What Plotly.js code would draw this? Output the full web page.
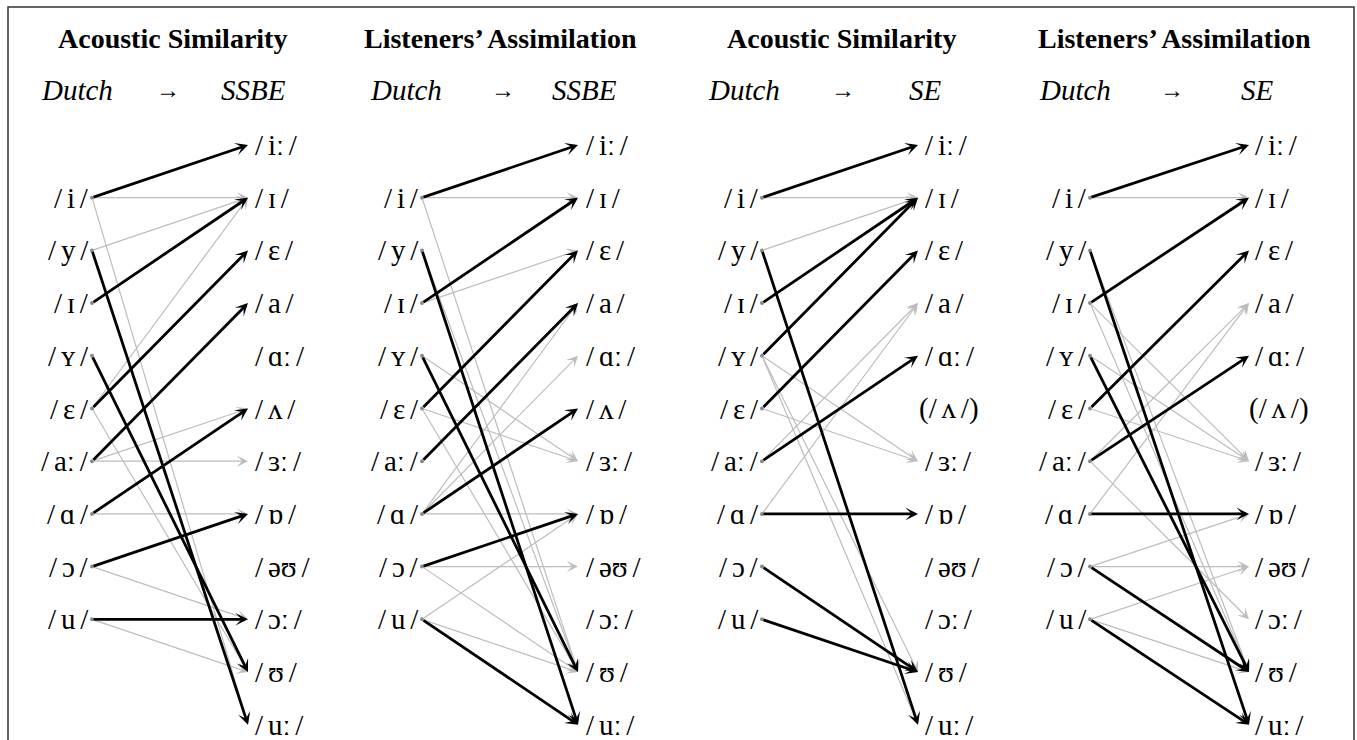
<!DOCTYPE html>
<html>
<head>
<meta charset="utf-8">
<script src="https://cdn.plot.ly/plotly-3.0.1.min.js"></script>
<style>html,body{margin:0;padding:0;background:#fff;}#chart{width:1357px;height:740px;}</style>
</head>
<body>
<div id="chart"></div>
<script>
// ---------- DATA ----------
const dutchVowels = ['i','y','ɪ','ʏ','ɛ','aː','ɑ','ɔ','u'];
const ssbeVowels  = ['iː','ɪ','ɛ','a','ɑː','ʌ','ɜː','ɒ','əʊ','ɔː','ʊ','uː'];
const seVowels    = ['iː','ɪ','ɛ','a','ɑː','(ʌ)','ɜː','ɒ','əʊ','ɔː','ʊ','uː'];
const panelTitles = ['Acoustic Similarity','Listeners’ Assimilation','Acoustic Similarity','Listeners’ Assimilation'];
const sourceName  = 'Dutch';
const targetNames = ['SSBE','SSBE','SE','SE'];

// edges: [Dutch vowel, English vowel]; major = black, minor = grey
const acousticSSBE_major = [['i','iː'],['y','uː'],['ɪ','ɪ'],['ʏ','ʊ'],['ɛ','ɛ'],['aː','a'],['ɑ','ʌ'],['ɔ','ɒ'],['u','ɔː']];
const acousticSSBE_minor = [['i','ɪ'],['i','uː'],['y','ɪ'],['ɛ','ɪ'],['ɛ','ʊ'],['aː','ʌ'],['aː','ɜː'],['ɑ','ɒ'],['ɔ','ɔː'],['u','ʊ']];

const listenersSSBE_major = [['i','iː'],['y','uː'],['ɪ','ɪ'],['ʏ','ʊ'],['ɛ','ɛ'],['aː','a'],['ɑ','ʌ'],['ɔ','ɒ'],['u','uː']];
const listenersSSBE_minor = [['i','ɪ'],['i','ʊ'],['y','ʊ'],['ɪ','ɛ'],['ʏ','ɜː'],['ɛ','ɜː'],['ɛ','ʊ'],['ɑ','a'],['ɑ','ɑː'],['ɑ','ɒ'],['ɔ','əʊ'],['ɔ','ʊ'],['u','ɒ'],['u','ʊ']];

const acousticSE_major = [['i','iː'],['y','uː'],['ɪ','ɪ'],['ʏ','ɪ'],['ɛ','ɛ'],['aː','ɑː'],['ɑ','ɒ'],['ɔ','ʊ'],['u','ʊ']];
const acousticSE_minor = [['i','ɪ'],['y','ɪ'],['ʏ','ɜː'],['ʏ','ʊ'],['ʏ','uː'],['ɛ','ɜː'],['aː','a'],['ɑ','a']];

const listenersSE_major = [['i','iː'],['y','uː'],['ɪ','ɪ'],['ʏ','ʊ'],['ɛ','ɛ'],['aː','ɑː'],['ɑ','ɒ'],['ɔ','ʊ'],['u','uː']];
const listenersSE_minor = [['i','ɪ'],['y','ʊ'],['ɪ','ɜː'],['ɪ','ʊ'],['ʏ','ɜː'],['ɛ','ɜː'],['aː','a'],['aː','ɔː'],['ɑ','a'],['ɔ','ɒ'],['ɔ','əʊ'],['u','əʊ'],['u','ʊ']];

// ---------- LAYOUT CONFIG ----------
const panels = [
  {target: ssbeVowels, major: acousticSSBE_major,  minor: acousticSSBE_minor},
  {target: ssbeVowels, major: listenersSSBE_major, minor: listenersSSBE_minor},
  {target: seVowels,   major: acousticSE_major,    minor: acousticSE_minor},
  {target: seVowels,   major: listenersSE_major,   minor: listenersSE_minor}
];
const cfg = {
  srcX:   [92, 422, 762, 1090],
  tipX:   [248, 578, 918, 1249],
  titleX: [172, 500, 841, 1174],
  dutchX: [77, 406, 744, 1075],
  arrX:   [168, 503, 843, 1172],
  subTgtX:[253, 584, 925, 1257],
  tgtX:   [253, 584, 923, 1253],
  titleRow: -2.03, subRow: -1.04, dutchOffset: 1
};
const serif = 'Liberation Serif, DejaVu Serif, serif';
const grey = '#bdbdbd';
const sp = '\u2006';

const annotations = [];
const dotX = [], dotY = [];
const slash = v => v.startsWith('(')
  ? '(/' + sp + v.slice(1, -1) + sp + '/)'
  : '/' + sp + v + sp + '/';

panels.forEach((p, k) => {
  annotations.push({x: cfg.titleX[k], y: cfg.titleRow, xref:'x', yref:'y', text: '<b>' + panelTitles[k] + '</b>',
    showarrow:false, font:{family: serif, size: 28, color:'#000'}});
  annotations.push({x: cfg.dutchX[k], y: cfg.subRow, xref:'x', yref:'y', text: '<i>' + sourceName + '</i>',
    showarrow:false, font:{family: serif, size: 29, color:'#000'}});
  annotations.push({x: cfg.arrX[k], y: cfg.subRow, xref:'x', yref:'y', text: '→',
    showarrow:false, font:{family: serif, size: 24, color:'#000'}});
  annotations.push({x: cfg.subTgtX[k], y: cfg.subRow, xref:'x', yref:'y', text: '<i>' + targetNames[k] + '</i>',
    showarrow:false, font:{family: serif, size: 29, color:'#000'}});
  dutchVowels.forEach((v, j) => {
    annotations.push({x: cfg.srcX[k] - 1, y: j + cfg.dutchOffset, xref:'x', yref:'y', text: slash(v),
      xanchor:'right', showarrow:false, font:{family: serif, size: 29, color:'#000'}});
    dotX.push(cfg.srcX[k]); dotY.push(j + cfg.dutchOffset);
  });
  p.target.forEach((v, j) => {
    annotations.push({x: cfg.tgtX[k] + (v.startsWith('(') ? -6 : 0), y: j, xref:'x', yref:'y', text: slash(v),
      xanchor:'left', showarrow:false, font:{family: serif, size: 29, color:'#000'}});
  });
  const tIndex = v => p.target.findIndex(t => t.replace(/[()]/g,'') === v);
  const addEdge = (e, major) => {
    annotations.push({
      x: cfg.tipX[k], y: tIndex(e[1]), ax: cfg.srcX[k], ay: dutchVowels.indexOf(e[0]) + cfg.dutchOffset,
      xref:'x', yref:'y', axref:'x', ayref:'y', text:'', showarrow:true,
      arrowhead: 3, arrowsize: major ? 0.75 : 1.6, arrowwidth: major ? 2.8 : 1.2,
      arrowcolor: major ? '#000' : grey, standoff: 0, startstandoff: 0
    });
  };
  p.minor.forEach(e => addEdge(e, false));
  p.major.forEach(e => addEdge(e, true));
});

const traces = [{
  x: dotX, y: dotY, type:'scatter', mode:'markers', hoverinfo:'skip',
  marker:{size:4, color:'#888'}
}];

const layout = {
  width: 1357, height: 740,
  margin:{l:0, r:0, t:0, b:0},
  paper_bgcolor:'#fff', plot_bgcolor:'#fff',
  showlegend:false,
  xaxis:{range:[0,1357], visible:false, fixedrange:true},
  yaxis:{range:[11.29,-2.751], visible:false, fixedrange:true},
  annotations: annotations,
  shapes:[{type:'rect', xref:'paper', yref:'paper', x0:8/1357, x1:1354/1357, y0:-0.02, y1:1-7/740,
    line:{color:'#333', width:1.5}}]
};
Plotly.newPlot('chart', traces, layout, {staticPlot:true, displayModeBar:false});
</script>
</body>
</html>
